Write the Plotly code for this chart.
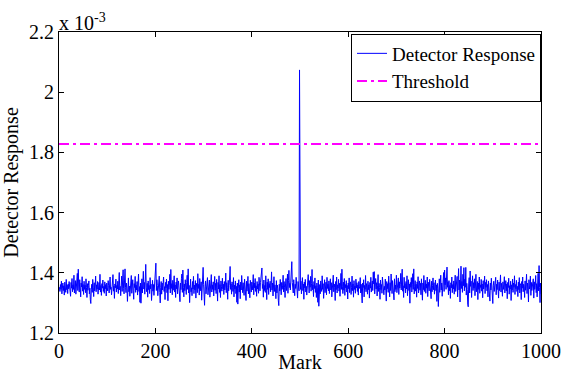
import plotly.graph_objects as go

# Detector response in units of 1e-6 (plotted as 1e-3 units)
response_e6 = [
1352,1338,1361,1345,1372,1330,1349,1366,1341,1357,1326,1369,1350,1335,1378,1344,1359,1331,1363,1347,
1371,1340,1355,1322,1368,1349,1381,1337,1360,1345,1392,1333,1358,1374,1329,1363,1350,1398,1341,1412,
1356,1336,1377,1348,1320,1366,1353,1387,1339,1361,1328,1372,1345,1359,1334,1380,1351,1318,1364,1342,
1357,1373,1330,1349,1310,1298,1344,1362,1335,1378,1352,1321,1367,1340,1356,1389,1337,1360,1346,1371,
1329,1354,1368,1343,1395,1336,1358,1325,1364,1349,1376,1338,1355,1332,1370,1347,1361,1323,1366,1351,
1340,1374,1357,1333,1362,1386,1345,1352,1327,1369,1348,1394,1339,1356,1315,1363,1350,1379,1336,1358,
1346,1372,1331,1360,1401,1343,1355,1324,1367,1389,1338,1359,1410,1347,1330,1376,1413,1352,1334,1366,
1349,1305,1361,1383,1337,1356,1322,1370,1345,1391,1332,1358,1377,1340,1312,1364,1351,1388,1335,1359,
1343,1371,1326,1362,1396,1338,1354,1302,1366,1299,1348,1380,1333,1360,1405,1346,1368,1329,1392,1428,
1350,1337,1365,1319,1373,1344,1358,1331,1384,1347,1362,1308,1355,1375,1339,1361,1325,1368,1349,1421,
1432,1341,1377,1358,1324,1363,1346,1389,1335,1300,1352,1371,1329,1366,1343,1357,1386,1338,1354,1311,
1368,1350,1379,1334,1361,1307,1372,1345,1359,1395,1333,1411,1348,1364,1327,1375,1342,1356,1390,1336,
1360,1318,1369,1347,1383,1330,1357,1373,1339,1351,1304,1366,1344,1381,1396,1335,1409,1352,1320,1363,
1341,1377,1354,1328,1368,1392,1345,1413,1333,1358,1301,1362,1379,1337,1350,1324,1371,1346,1388,1331,
1359,1343,1374,1316,1365,1352,1334,1397,1348,1362,1326,1381,1340,1356,1370,1309,1344,1406,1418,1360,
1337,1292,1355,1373,1330,1366,1349,1384,1327,1358,1341,1376,1319,1363,1352,1394,1336,1360,1345,1370,
1323,1357,1388,1342,1365,1331,1378,1350,1306,1368,1346,1390,1335,1361,1318,1373,1354,1339,1382,1347,
1362,1328,1371,1343,1356,1399,1334,1367,1351,1312,1375,1340,1358,1386,1421,1345,1363,1329,1370,1352,
1338,1384,1320,1359,1346,1373,1331,1355,1302,1366,1296,1349,1377,1336,1360,1314,1369,1343,1391,1357,
1334,1367,1350,1325,1379,1345,1361,1308,1372,1339,1356,1388,1330,1364,1347,1317,1375,1352,1336,1369,
1343,1360,1394,1327,1366,1350,1381,1338,1357,1322,1371,1346,1363,1332,1385,1354,1340,1367,1399,1411,
1416,1348,1362,1319,1376,1341,1358,1335,1390,1352,1311,1369,1345,1380,1328,1364,1351,1372,1337,1357,
1403,1343,1366,1323,1355,1387,1338,1360,1346,1314,1374,1333,1359,1347,1309,1291,1362,1340,1378,1353,
1327,1368,1345,1359,1392,1336,1371,1350,1318,1363,1381,1341,1356,1396,1332,1374,1408,1351,1365,1343,
1389,1420,1437,1368,1346,1333,1377,1355,1324,1362,1348,1385,1339,1358,1316,1371,1353,1340,2074,1361,
1345,1372,1330,1357,1384,1341,1363,1312,1369,1350,1378,1336,1355,1326,1367,1346,1394,1359,1333,1374,
1352,1388,1339,1365,1411,1344,1360,1321,1371,1348,1383,1335,1357,1318,1366,1350,1302,1376,1289,1342,
1361,1330,1373,1352,1338,1390,1345,1364,1315,1358,1377,1334,1351,1369,1327,1385,1348,1362,1340,1373,
1331,1356,1380,1343,1367,1320,1359,1346,1392,1337,1363,1352,1308,1371,1344,1386,1333,1360,1349,1378,
1339,1365,1322,1357,1398,1345,1412,1353,1331,1369,1342,1381,1325,1361,1350,1374,1336,1358,1313,1366,
1347,1383,1334,1359,1370,1328,1352,1389,1341,1363,1319,1374,1345,1356,1332,1379,1350,1367,1338,1360,
1326,1371,1348,1355,1384,1333,1362,1343,1300,1366,1351,1377,1320,1358,1345,1391,1337,1364,1352,1329,
1372,1344,1360,1316,1368,1349,1385,1336,1357,1373,1341,1402,1363,1404,1330,1356,1381,1346,1367,1323,
1359,1394,1338,1365,1351,1312,1376,1344,1361,1332,1386,1350,1369,1327,1355,1343,1379,1358,1306,1371,
1347,1364,1335,1389,1353,1320,1367,1341,1396,1356,1331,1374,1348,1362,1310,1380,1337,1359,1345,1392,
1334,1366,1352,1383,1328,1370,1349,1361,1398,1343,1376,1412,1339,1357,1318,1385,1350,1364,1333,1371,
1346,1390,1324,1358,1377,1341,1363,1299,1368,1352,1384,1336,1360,1397,1345,1413,1330,1355,1374,1339,
1362,1319,1370,1348,1387,1333,1356,1373,1342,1365,1327,1380,1351,1309,1366,1344,1391,1338,1359,1375,
1332,1363,1349,1386,1321,1369,1355,1340,1378,1346,1361,1314,1372,1337,1358,1383,1344,1367,1329,1353,
1376,1341,1360,1305,1365,1348,1288,1350,1380,1335,1357,1392,1343,1366,1322,1371,1354,1401,1338,1409,
1360,1383,1345,1398,1419,1352,1369,1327,1374,1340,1358,1315,1367,1350,1386,1334,1361,1346,1373,1329,
1356,1392,1338,1364,1351,1388,1320,1367,1414,1343,1376,1303,1362,1422,1348,1371,1335,1395,1357,1417,
1340,1379,1352,1418,1326,1365,1344,1296,1287,1363,1384,1333,1406,1355,1372,1318,1359,1390,1341,1367,
1349,1380,1324,1362,1395,1337,1356,1371,1311,1366,1345,1386,1332,1360,1351,1378,1339,1363,1317,1374,
1346,1358,1389,1331,1368,1352,1377,1340,1361,1320,1373,1348,1355,1306,1366,1343,1382,1335,1359,1298,
1357,1372,1338,1364,1350,1385,1327,1362,1344,1376,1353,1316,1369,1341,1358,1393,1336,1365,1349,1322,
1370,1345,1361,1387,1333,1356,1374,1340,1363,1314,1368,1351,1382,1329,1357,1346,1372,1308,1360,1343,
1379,1335,1366,1352,1390,1328,1361,1347,1375,1338,1355,1321,1369,1344,1384,1333,1358,1364,1311,1371,
1349,1386,1337,1362,1354,1318,1373,1342,1360,1395,1331,1366,1350,1303,1377,1346,1357,1389,1325,1368,
1341,1363,1352,1380,1316,1370,1345,1358,1391,1334,1364,1320,1375,1398,1340,1424,1352,1301,1366,1330,
]
marks = list(range(1, len(response_e6) + 1))
threshold_x = [0, 1000]
threshold_e6 = [1828, 1828]
x_ticks = [0, 200, 400, 600, 800, 1000]
y_ticks = [1.2, 1.4, 1.6, 1.8, 2.0, 2.2]
y_ticklabels = ["1.2", "1.4", "1.6", "1.8", "2", "2.2"]

font = "Liberation Serif, Times New Roman, serif"

fig = go.Figure()
fig.add_trace(go.Scatter(
    x=marks, y=[v / 1000 for v in response_e6], mode="lines",
    name="Detector Response", line=dict(color="#0000ff", width=1),
))
fig.add_trace(go.Scatter(
    x=threshold_x, y=[v / 1000 for v in threshold_e6], mode="lines",
    name="Threshold", line=dict(color="#ff00ff", width=2, dash="10px,4px,3px,4px"),
))

axis_common = dict(
    showline=True, linecolor="black", linewidth=1, mirror="ticks",
    ticks="inside", ticklen=5, tickcolor="black", showgrid=False, zeroline=False,
    automargin=False,
    tickfont=dict(family=font, size=20, color="black"),
)
fig.update_xaxes(range=[0, 1000], tickvals=x_ticks, title=dict(text="Mark", standoff=0,
                 font=dict(family=font, size=20, color="black")), **axis_common)
fig.update_yaxes(range=[1.2, 2.2], tickvals=y_ticks, ticktext=y_ticklabels,
                 title=dict(text="Detector Response", standoff=10,
                            font=dict(family=font, size=20, color="black")), **axis_common)

fig.add_annotation(xref="paper", yref="paper", x=0, y=1, xanchor="left", yanchor="bottom",
                   text="x 10<sup>-3</sup>", showarrow=False,
                   font=dict(family=font, size=20, color="black"), yshift=-4, xshift=-2)

fig.update_layout(
    width=561, height=373,
    margin=dict(l=59, r=20, t=32, b=40),
    paper_bgcolor="white", plot_bgcolor="white",
    font=dict(family=font, size=20, color="black"),
    showlegend=True,
    legend=dict(x=1, y=0.995, xanchor="right", yanchor="top", bgcolor="white",
                bordercolor="black", borderwidth=1, itemwidth=30,
                font=dict(family=font, size=19, color="black"),
                tracegroupgap=0, yref="paper"),
)

fig.write_html("out.html", config={"displayModeBar": False},
               post_script="document.body.style.margin='0';")
